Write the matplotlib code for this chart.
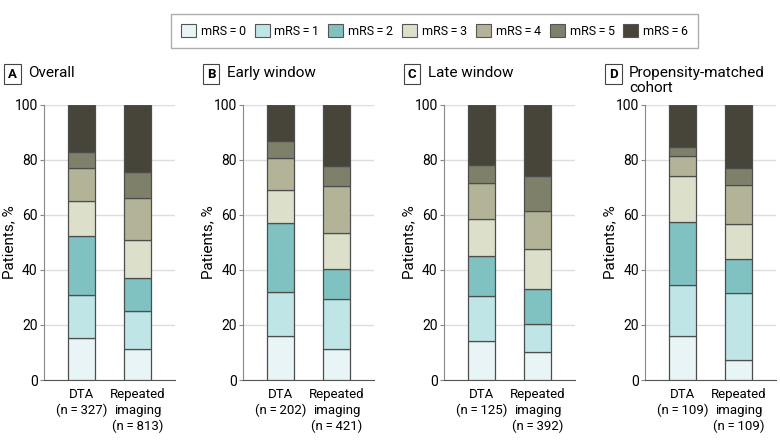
import matplotlib.pyplot as plt
import matplotlib.patches as mpatches
import numpy as np

plt.rcParams['font.family'] = ['Roboto', 'DejaVu Sans']

levels = ["mRS\u2009=\u20090", "mRS\u2009=\u20091", "mRS\u2009=\u20092", "mRS\u2009=\u20093",
          "mRS\u2009=\u20094", "mRS\u2009=\u20095", "mRS\u2009=\u20096"]
colors = ["#e8f4f5", "#bfe5e6", "#80c1c1", "#dcdfca", "#b3b497", "#7f806a", "#47443a"]

panel_letters = ["A", "B", "C", "D"]
panel_titles = ["Overall", "Early window", "Late window", "Propensity-matched\ncohort"]
groups = [
    ["DTA\n(n\u2009=\u2009327)", "Repeated\nimaging\n(n\u2009=\u2009813)"],
    ["DTA\n(n\u2009=\u2009202)", "Repeated\nimaging\n(n\u2009=\u2009421)"],
    ["DTA\n(n\u2009=\u2009125)", "Repeated\nimaging\n(n\u2009=\u2009392)"],
    ["DTA\n(n\u2009=\u2009109)", "Repeated\nimaging\n(n\u2009=\u2009109)"],
]

# percentages per mRS level (0..6), for DTA and repeated imaging
overall_dta = [15.1, 15.9, 21.2, 12.8, 11.9, 6.0, 17.1]
overall_rep = [11.1, 13.8, 12.1, 14.0, 15.0, 9.7, 24.3]
early_dta = [16.1, 15.7, 25.1, 12.1, 11.8, 6.1, 13.1]
early_rep = [11.1, 18.2, 11.1, 13.0, 17.2, 7.0, 22.4]
late_dta = [14.2, 16.4, 14.3, 13.6, 13.0, 6.6, 21.9]
late_rep = [10.3, 10.2, 12.7, 14.5, 13.7, 12.7, 25.9]
psm_dta = [16.1, 18.3, 23.1, 16.7, 7.2, 3.3, 15.3]
psm_rep = [7.1, 24.6, 12.1, 13.0, 14.0, 6.2, 23.0]

data = [
    (overall_dta, overall_rep),
    (early_dta, early_rep),
    (late_dta, late_rep),
    (psm_dta, psm_rep),
]

fig = plt.figure(figsize=(7.8, 4.45), dpi=100)
W, H = 780, 445
lefts = [44, 243, 444, 645]
ax_w = 131
ax_bottom = 380
ax_top = 104.7

for i in range(4):
    ax = fig.add_axes([lefts[i] / W, 1 - ax_bottom / H, ax_w / W, (ax_bottom - ax_top) / H])
    x = np.arange(2)
    bottoms = np.zeros(2)
    for k in range(7):
        vals = np.array([data[i][0][k], data[i][1][k]])
        ax.bar(x, vals, width=0.48, bottom=bottoms, color=colors[k],
               edgecolor="#4d4d4d", linewidth=0.9, zorder=3)
        bottoms += vals
    ax.set_xlim(-0.67, 1.67)
    ax.set_ylim(0, 100)
    ax.set_yticks([0, 20, 40, 60, 80, 100])
    ax.set_xticks(x)
    ax.set_xticklabels(groups[i], fontsize=9.5, va="top", linespacing=1.25)
    ax.tick_params(axis="x", length=0, pad=6)
    ax.tick_params(axis="y", labelsize=10, length=3, color="#888888", pad=1.5)
    ax.set_ylabel("Patients, %", fontsize=11)
    ax.yaxis.set_label_coords(-0.215, 0.5)
    ax.grid(axis="y", color="#dddddd", linewidth=1, zorder=0)
    ax.spines["top"].set_visible(False)
    ax.spines["right"].set_visible(False)
    ax.spines["left"].set_color("#888888")
    ax.spines["bottom"].set_color("#555555")

    # panel letter box and title
    bx = (lefts[i] - 40) / W
    fig.text(bx + 0.0105, 1 - 74 / H, panel_letters[i], fontsize=9.5, fontweight="bold",
             ha="center", va="center",
             bbox=dict(boxstyle="square,pad=0.3", facecolor="white", edgecolor="#444444", linewidth=0.8))
    fig.text((lefts[i] - 16) / W, 1 - 66 / H, panel_titles[i], fontsize=11,
             ha="left", va="top", linespacing=1.1)

handles = [mpatches.Patch(facecolor=colors[k], edgecolor="#555555", linewidth=0.8, label=levels[k])
           for k in range(7)]
leg = fig.legend(handles=handles, loc="center", bbox_to_anchor=(434.5 / W, 1 - 31 / H), ncol=7,
                 frameon=True, fontsize=9, handlelength=1.2, handleheight=1.2,
                 columnspacing=0.7, handletextpad=0.4, borderpad=0.8, borderaxespad=0,
                 fancybox=False)
leg.get_frame().set_edgecolor("#999999")
leg.get_frame().set_linewidth(1)

fig.savefig("out.png", dpi=100)
